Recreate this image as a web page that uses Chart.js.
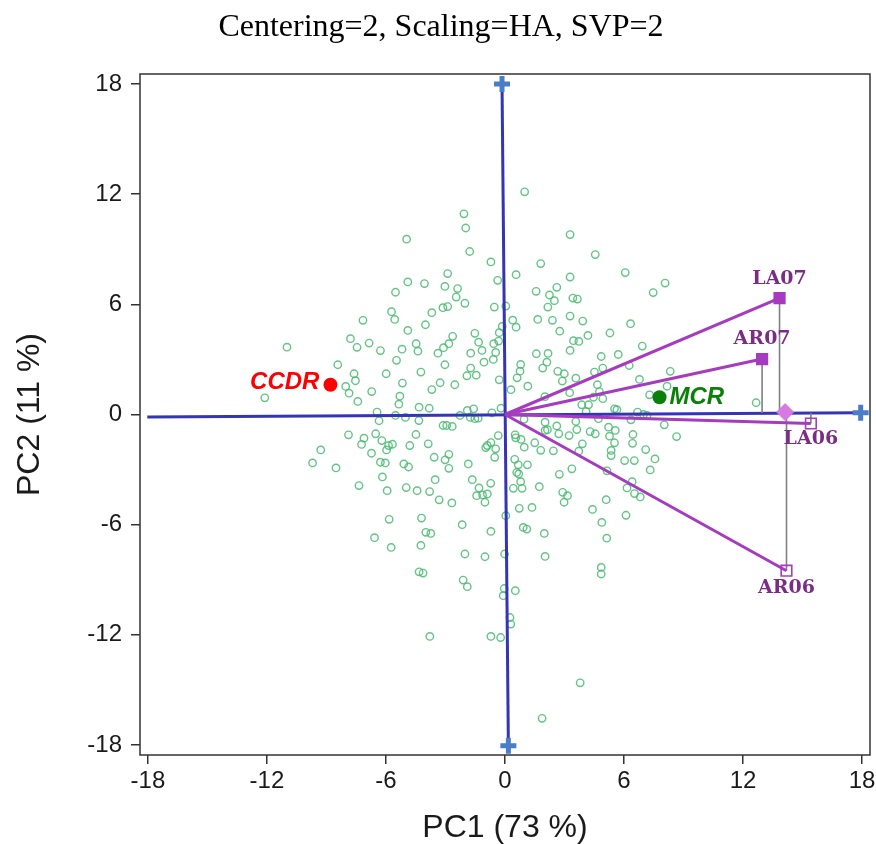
<!DOCTYPE html>
<html>
<head>
<meta charset="utf-8">
<title>Biplot – Centering=2, Scaling=HA, SVP=2</title>
<script src="https://cdn.jsdelivr.net/npm/chart.js@4.4.1/dist/chart.umd.min.js"></script>
<style>
  html, body { margin: 0; padding: 0; background: #fff; }
  #wrap { width: 876px; height: 844px; }
</style>
</head>
<body>
<div id="wrap"><canvas id="bp" width="876" height="844"></canvas></div>
<script>
/* ── texts & ticks ───────────────────────────────────────────────────────── */
const TITLE   = 'Centering=2, Scaling=HA, SVP=2';
const X_TITLE = 'PC1 (73 %)';
const Y_TITLE = 'PC2 (11 %)';
const TICKS   = [-18, -12, -6, 0, 6, 12, 18];

/* ── sample scores (green circles) ───────────────────────────────────────── */
const PC1 = [
  -4.96,-4.90,-5.52,-5.72,-5.56,-7.16,-4.90,-7.79,-7.46,-6.85,
  -6.28,-5.19,-10.99,0.99,-2.07,-1.98,3.28,-1.78,-0.71,1.80,
  -2.89,0.56,3.28,-0.37,-4.06,-3.03,-2.39,1.57,2.61,-2.46,
  2.24,2.49,-2.02,-3.13,-2.89,-0.54,0.04,2.16,-3.69,1.65,
  2.39,0.39,0.56,3.28,-4.01,2.76,-0.14,-0.29,-1.52,-2.64,
  -1.33,-0.57,-0.32,-2.83,-3.10,-4.48,-4.39,-3.38,-1.73,-1.16,
  -0.47,1.58,2.17,3.28,4.55,6.06,8.07,7.47,3.42,3.65,
  3.92,6.33,4.18,5.29,3.45,3.72,6.92,4.85,5.71,-8.43,
  -5.47,-7.61,-7.54,-5.99,-5.17,-8.03,-7.86,-6.72,-7.42,-5.30,
  -5.35,-12.11,-6.45,-6.35,-5.52,-5.02,-7.89,-6.52,-7.11,-7.23,
  -6.21,-5.87,-5.67,-5.97,-4.80,-9.29,-6.73,-9.70,-8.52,-6.28,
  -6.03,-5.10,-4.86,-6.18,-7.36,-5.94,-4.98,-5.84,-6.58,-1.06,
  -0.59,-3.03,-4.24,-1.73,-1.92,-1.45,-3.27,-2.53,-3.69,-0.29,
  0.79,0.76,0.61,1.15,0.30,2.11,1.90,2.66,2.99,2.89,
  3.26,2.01,-4.33,-3.82,-2.27,-1.90,-1.58,-1.75,-1.52,-1.35,
  -0.66,-0.20,-4.34,-3.12,-2.94,-2.66,0.96,-4.49,2.02,2.02,
  2.61,2.71,3.23,2.14,-0.34,0.51,0.54,0.81,0.97,1.50,
  1.80,2.44,-0.89,-0.71,-0.97,-0.47,-0.52,-3.87,-3.57,-2.83,
  -3.02,-2.83,-1.85,0.49,0.67,1.13,0.59,0.69,0.79,0.86,
  0.42,1.73,2.74,-3.52,-1.65,-0.72,-1.31,-4.43,-3.80,-1.43,
  -1.13,-0.89,-1.01,-3.32,-2.68,2.91,2.98,3.15,0.72,1.36,
  0.04,-4.21,-2.16,-0.71,-3.99,-3.74,0.92,1.10,1.98,3.57,
  4.51,4.93,6.26,8.33,6.78,8.17,4.66,4.76,4.46,4.93,
  7.29,3.87,4.21,5.52,5.64,6.68,6.98,7.16,4.09,4.71,
  6.35,3.57,8.03,8.65,3.62,4.29,4.55,5.22,5.56,5.27,
  6.45,3.90,5.52,6.43,5.35,5.35,3.72,7.09,6.03,6.52,
  7.56,7.32,5.14,6.41,6.15,6.53,6.82,5.10,4.41,6.10,
  4.88,5.13,3.37,-5.74,-4.24,-2.02,-1.01,-0.02,2.02,-4.33,
  -4.13,-2.11,-1.90,-0.04,-0.09,0.52,0.25,0.29,-3.79,-0.71,
  -0.22,1.87,4.85,4.85,3.79,12.66
];
const PC2 = [
  9.55,7.22,6.66,5.60,5.18,5.13,4.58,4.13,3.66,3.89,
  3.48,3.56,3.67,12.13,10.93,10.16,9.80,8.88,8.31,8.22,
  7.68,7.62,7.49,7.31,7.13,6.98,6.86,6.71,6.93,6.40,
  6.51,6.20,6.06,5.82,5.88,5.85,5.91,5.85,5.55,5.18,
  5.13,5.14,4.76,5.36,4.89,4.54,4.80,4.46,4.42,4.26,
  3.94,3.86,4.00,3.86,3.64,3.86,3.45,3.34,3.34,3.49,
  3.38,3.31,3.33,3.49,8.71,7.73,7.16,6.64,6.34,6.29,
  5.09,4.95,4.31,4.44,4.02,3.98,3.73,3.16,3.27,2.71,
  2.95,2.22,1.84,2.22,1.71,1.53,1.16,1.25,0.71,1.00,
  0.56,0.91,0.13,-0.34,-0.05,-0.16,-1.11,-1.05,-1.29,-1.63,
  -1.42,-1.69,-1.62,-1.93,-1.69,-1.93,-2.11,-2.64,-2.91,-2.60,
  -2.64,-2.69,-2.86,-3.40,-3.87,-4.15,-3.98,-5.71,-6.71,2.85,
  3.00,2.71,2.31,2.53,2.11,2.14,1.73,1.62,1.36,1.89,
  2.73,2.36,2.00,1.54,1.35,2.85,2.53,2.35,2.22,1.82,
  1.19,0.97,0.40,0.34,-0.05,0.22,0.31,-0.16,-0.23,-0.20,
  0.09,0.34,-0.33,-0.60,-0.60,-0.65,-0.26,-1.09,-0.42,-0.87,
  -0.62,-1.05,-1.15,-0.83,-1.15,-1.11,-1.27,-1.36,-1.78,-1.54,
  -1.95,-1.98,-1.69,-1.53,-1.80,-1.87,-2.33,-1.60,-2.33,-2.17,
  -2.47,-2.93,-2.69,-2.44,-2.74,-2.74,-3.16,-3.24,-3.66,-4.02,
  -4.02,-3.93,-3.26,-3.55,-3.55,-3.75,-4.00,-4.15,-4.20,-4.42,
  -4.38,-4.33,-4.78,-4.65,-4.82,-4.24,-4.78,-4.42,-5.11,-5.06,
  -5.51,-5.64,-6.00,-6.37,-6.42,-6.48,-6.15,-6.24,-6.48,1.98,
  2.31,2.53,2.67,2.35,1.91,1.54,1.62,1.25,0.94,0.86,
  1.07,0.53,0.53,0.31,0.26,0.13,0.00,-0.05,0.16,-0.23,
  -0.29,-0.38,-0.56,-1.20,-0.82,-0.93,-1.05,-0.69,-0.87,-1.18,
  -1.09,-1.60,-1.54,-1.57,-1.96,-2.24,-2.00,-1.91,-2.51,-2.51,
  -2.42,-3.02,-3.07,-3.66,-4.00,-4.31,-4.49,-4.64,-5.17,-5.49,
  -5.88,-6.74,-2.96,-7.24,-7.13,-7.60,-7.75,-7.60,-7.73,-8.57,
  -8.64,-9.02,-9.38,-9.48,-9.87,-9.60,-11.06,-11.42,-12.09,-12.09,
  -12.15,-16.55,-8.33,-8.69,-14.62,0.64
];

/* ── variable vectors ────────────────────────────────────────────────────── */
const VAR_NAMES  = ['LA07', 'AR07', 'LA06', 'AR06'];
const VAR_X      = [13.84, 12.96, 15.42, 14.19];
const VAR_Y      = [6.34, 3.02, -0.49, -8.51];
const VAR_FILLED = [true, true, false, false];
const PROJ_Y     = [0.08, 0.08, 0.08, 0.13];   // foot of each projection on PC1
const DIAMOND    = [14.12, 0.13];

/* ── supplementary points ───────────────────────────────────────────────── */
const SUP_NAMES  = ['CCDR', 'MCR'];
const SUP_X      = [-8.80, 7.79];
const SUP_Y      = [1.62, 0.94];
const SUP_COLORS = ['#ff0000', '#0a800a'];

/* ── principal axes (drawn lines) and their end markers ─────────────────── */
const AXIS1_X = [-18.03, 17.93], AXIS1_Y = [-0.14, 0.09];
const AXIS2_X = [-0.15, 0.17],   AXIS2_Y = [18.0, -18.05];
const PLUS_X  = [-0.15, 0.17, 17.93];
const PLUS_Y  = [18.0, -18.05, 0.09];

const pts = (xs, ys) => xs.map((x, i) => ({ x, y: ys[i] }));

/* ── datasets ───────────────────────────────────────────────────────────── */
const VEC_CLR  = '#a63bbf';
const datasets = [];

datasets.push({
  data: pts(PC1, PC2),
  pointStyle: 'circle', pointRadius: 3.7, pointBorderWidth: 1.4,
  pointBorderColor: 'rgba(72,186,112,0.85)', pointBackgroundColor: 'rgba(0,0,0,0)',
  showLine: false, order: 10
});

[[AXIS1_X, AXIS1_Y], [AXIS2_X, AXIS2_Y]].forEach(([xs, ys]) => datasets.push({
  data: pts(xs, ys), showLine: true, borderColor: '#3434b6', borderWidth: 3,
  pointRadius: 0, order: 6
}));

datasets.push({
  data: pts(PLUS_X, PLUS_Y), showLine: false, pointStyle: 'cross',
  pointRadius: 8, pointBorderWidth: 5, pointBorderColor: '#4b7cc6', order: 5
});

VAR_NAMES.forEach((n, i) => {
  datasets.push({   // projection onto PC1
    data: [{ x: VAR_X[i], y: VAR_Y[i] }, { x: VAR_X[i], y: PROJ_Y[i] }],
    showLine: true, borderColor: '#808080', borderWidth: 1.6, pointRadius: 0, order: 4
  });
  datasets.push({   // vector from origin
    data: [{ x: 0, y: 0 }, { x: VAR_X[i], y: VAR_Y[i] }],
    showLine: true, borderColor: VEC_CLR, borderWidth: 3, pointRadius: 0, order: 3
  });
});

datasets.push({
  data: [{ x: DIAMOND[0], y: DIAMOND[1] }], showLine: false, pointStyle: 'rectRot',
  pointRadius: 8.5, pointBackgroundColor: '#d47ae2', pointBorderColor: '#d47ae2', order: 2.5
});

datasets.push({
  data: pts(VAR_X, VAR_Y), showLine: false, pointStyle: 'rect', pointRadius: 7.5,
  pointBorderWidth: 1.6, pointBorderColor: VEC_CLR,
  pointBackgroundColor: VAR_FILLED.map(f => f ? VEC_CLR : 'rgba(255,255,255,0)'), order: 2
});

datasets.push({
  data: pts(SUP_X, SUP_Y), showLine: false, pointStyle: 'circle', pointRadius: 7,
  pointBorderWidth: 0, pointBackgroundColor: SUP_COLORS, order: 1
});

/* ── plugins: frame, title, point labels ────────────────────────────────── */
const framePlugin = {
  id: 'frame',
  beforeDatasetsDraw(chart) {
    const { ctx, chartArea: a } = chart;
    ctx.save();
    ctx.strokeStyle = '#333';
    ctx.lineWidth = 1.5;
    ctx.strokeRect(a.left, a.top, a.right - a.left, a.bottom - a.top);
    ctx.restore();
  }
};

/* title sits slightly right of canvas centre in the source, so draw it here */
const titlePlugin = {
  id: 'topTitle',
  afterDraw(chart) {
    const { ctx } = chart;
    ctx.save();
    ctx.font = '32px "Liberation Serif", "Times New Roman", serif';
    ctx.fillStyle = '#000';
    ctx.textAlign = 'center';
    ctx.textBaseline = 'middle';
    ctx.fillText(TITLE, 441, 28);
    ctx.restore();
  }
};

const labelPlugin = {
  id: 'biplotLabels',
  afterDatasetsDraw(chart) {
    const { ctx } = chart;
    const sx = chart.scales.x, sy = chart.scales.y;
    ctx.save();
    ctx.textBaseline = 'middle';

    /* supplementary point names — CCDR on the left, MCR on the right */
    ctx.font = 'italic bold 24px "Liberation Sans", Arial, sans-serif';
    SUP_NAMES.forEach((n, i) => {
      const px = sx.getPixelForValue(SUP_X[i]), py = sy.getPixelForValue(SUP_Y[i]);
      ctx.fillStyle = SUP_COLORS[i];
      if (i === 0) { ctx.textAlign = 'right'; ctx.fillText(n, px - 11, py - 2); }
      else         { ctx.textAlign = 'left';  ctx.fillText(n, px + 10, py); }
    });

    /* variable names above (07) or below (06) their marker */
    const dy = [-19, -20, 16, 17];
    ctx.font = 'bold 19px "DejaVu Serif", serif';
    ctx.fillStyle = '#7b2c85';
    ctx.textAlign = 'center';
    VAR_NAMES.forEach((n, i) => {
      ctx.fillText(n, sx.getPixelForValue(VAR_X[i]), sy.getPixelForValue(VAR_Y[i]) + dy[i]);
    });
    ctx.restore();
  }
};

/* ── chart ──────────────────────────────────────────────────────────────── */
const tickFont = { family: '"Liberation Sans", Arial, sans-serif', size: 24 };
const axTitleFont = { family: '"Liberation Sans", Arial, sans-serif', size: 32, lineHeight: 1 };
const setTicks = s => { s.ticks = TICKS.map(v => ({ value: v })); };

new Chart(document.getElementById('bp'), {
  type: 'scatter',
  data: { datasets },
  plugins: [framePlugin, labelPlugin, titlePlugin],
  options: {
    responsive: false,
    animation: false,
    devicePixelRatio: 1,
    layout: { autoPadding: false, padding: { left: 0, right: 6, top: 74, bottom: 0 } },
    scales: {
      x: {
        type: 'linear', min: -18.4, max: 18.4,
        afterBuildTicks: setTicks,
        afterFit: s => { s.height = 89; s.paddingLeft = 0; s.paddingRight = 0; },
        grid: { drawOnChartArea: false, drawTicks: true, tickLength: 9, color: '#333', lineWidth: 1.5 },
        border: { display: false },
        ticks: { font: tickFont, color: '#1a1a1a', padding: 3, maxRotation: 0, autoSkip: false, callback: v => String(v) },
        title: { display: true, text: X_TITLE, font: axTitleFont, color: '#1a1a1a', padding: { top: 0, bottom: 0 } }
      },
      y: {
        type: 'linear', min: -18.55, max: 18.55,
        afterBuildTicks: setTicks,
        afterFit: s => { s.width = 140; s.paddingTop = 0; s.paddingBottom = 0; },
        grid: { drawOnChartArea: false, drawTicks: true, tickLength: 9, color: '#333', lineWidth: 1.5 },
        border: { display: false },
        ticks: { font: tickFont, color: '#1a1a1a', padding: 9, autoSkip: false, callback: v => String(v) },
        title: { display: true, text: Y_TITLE, font: axTitleFont, color: '#1a1a1a', padding: { top: 14, bottom: 0 } }
      }
    },
    plugins: {
      legend: { display: false },
      tooltip: { enabled: false },
      title: { display: false }
    }
  }
});
</script>
</body>
</html>
